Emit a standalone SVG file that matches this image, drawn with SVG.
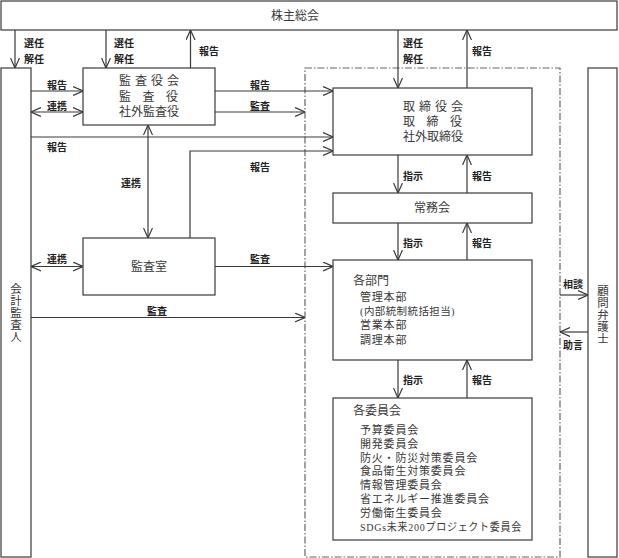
<svg xmlns="http://www.w3.org/2000/svg" width="619" height="558" viewBox="0 0 619 558">
<style>
.box{fill:#fff;stroke:#3a3a3a;stroke-width:1.2}
.ln{fill:none;stroke:#3a3a3a;stroke-width:1.2}
.dd{fill:none;stroke:#666;stroke-width:1.2;stroke-dasharray:7 2 1.5 2}
.t{font-family:"Liberation Serif","Noto Sans CJK JP",serif;font-size:12px;fill:#3a3a3a;dominant-baseline:central}
.s{font-size:10.5px;letter-spacing:0.4px}
.c{font-size:11px;letter-spacing:0.8px}
.v{font-family:"Liberation Serif","Noto Sans CJK JP",serif;font-size:11.5px;fill:#3a3a3a;writing-mode:vertical-rl;letter-spacing:0.5px}
.lb{font-family:"Noto Sans CJK JP","Liberation Sans",sans-serif;font-size:10px;font-weight:bold;fill:#222;dominant-baseline:central}
.m{text-anchor:middle}
</style>
<defs>
<marker id="ah" viewBox="0 0 10 10" refX="10" refY="5" markerWidth="10" markerHeight="10" markerUnits="userSpaceOnUse" orient="auto-start-reverse">
<path d="M0,0.5 L10,5 L0,9.5" fill="none" stroke="#3a3a3a" stroke-width="1.2"/>
</marker>
</defs>

<rect class="dd" x="305" y="68" width="255" height="489"/>

<g id="connectors">
<line class="ln" x1="15" y1="30" x2="15" y2="68" marker-end="url(#ah)"/>
<line class="ln" x1="106" y1="30" x2="106" y2="68" marker-end="url(#ah)"/>
<line class="ln" x1="190.5" y1="68" x2="190.5" y2="30" marker-end="url(#ah)"/>
<line class="ln" x1="398" y1="30" x2="398" y2="88" marker-end="url(#ah)"/>
<line class="ln" x1="467" y1="88" x2="467" y2="30" marker-end="url(#ah)"/>
<line class="ln" x1="31" y1="91" x2="83" y2="91" marker-end="url(#ah)"/>
<line class="ln" x1="31" y1="112" x2="83" y2="112" marker-start="url(#ah)" marker-end="url(#ah)"/>
<line class="ln" x1="215" y1="91" x2="333" y2="91" marker-end="url(#ah)"/>
<line class="ln" x1="215" y1="112" x2="305" y2="112" marker-end="url(#ah)"/>
<line class="ln" x1="31" y1="137" x2="333" y2="137" marker-end="url(#ah)"/>
<line class="ln" x1="148" y1="125" x2="148" y2="238" marker-start="url(#ah)" marker-end="url(#ah)"/>
<polyline class="ln" points="190,238 190,151 333,151" marker-end="url(#ah)"/>
<line class="ln" x1="31" y1="266.5" x2="83" y2="266.5" marker-start="url(#ah)" marker-end="url(#ah)"/>
<line class="ln" x1="215" y1="266.5" x2="333" y2="266.5" marker-end="url(#ah)"/>
<line class="ln" x1="31" y1="317.5" x2="305" y2="317.5" marker-end="url(#ah)"/>
<line class="ln" x1="398" y1="155" x2="398" y2="193" marker-end="url(#ah)"/>
<line class="ln" x1="467" y1="193" x2="467" y2="155" marker-end="url(#ah)"/>
<line class="ln" x1="398" y1="223" x2="398" y2="260" marker-end="url(#ah)"/>
<line class="ln" x1="467" y1="260" x2="467" y2="223" marker-end="url(#ah)"/>
<line class="ln" x1="398" y1="360" x2="398" y2="398" marker-end="url(#ah)"/>
<line class="ln" x1="467" y1="398" x2="467" y2="360" marker-end="url(#ah)"/>
<line class="ln" x1="560" y1="295" x2="588" y2="295" marker-end="url(#ah)"/>
<line class="ln" x1="588" y1="332" x2="560" y2="332" marker-end="url(#ah)"/>

<text class="lb" x="24" y="42">選任</text>
<text class="lb" x="24" y="58">解任</text>
<text class="lb" x="114" y="42">選任</text>
<text class="lb" x="114" y="58">解任</text>
<text class="lb" x="199" y="50">報告</text>
<text class="lb" x="403" y="42">選任</text>
<text class="lb" x="403" y="58">解任</text>
<text class="lb" x="472" y="50">報告</text>
<text class="lb" x="47" y="84">報告</text>
<text class="lb" x="47" y="105">連携</text>
<text class="lb" x="250" y="84">報告</text>
<text class="lb" x="250" y="105">監査</text>
<text class="lb" x="47" y="146">報告</text>
<text class="lb" x="121" y="182">連携</text>
<text class="lb" x="250" y="166">報告</text>
<text class="lb" x="47" y="258">連携</text>
<text class="lb" x="250" y="258">監査</text>
<text class="lb" x="147" y="310">監査</text>
<text class="lb" x="403" y="175">指示</text>
<text class="lb" x="472" y="175">報告</text>
<text class="lb" x="403" y="242">指示</text>
<text class="lb" x="472" y="242">報告</text>
<text class="lb" x="403" y="379">指示</text>
<text class="lb" x="472" y="379">報告</text>
<text class="lb" x="563" y="283">相談</text>
<text class="lb" x="563" y="344">助言</text>
</g>

<g id="shareholders">
<rect class="box" x="1" y="1" width="616" height="29"/>
<text class="t m" x="295" y="16">株主総会</text>
</g>

<g id="accounting-auditor">
<rect class="box" x="1" y="68" width="30" height="489"/>
<text class="v" x="15" y="283">会計監査人</text>
</g>

<g id="audit-board">
<rect class="box" x="83" y="68" width="132" height="57"/>
<text class="t" x="119 135 151 167" y="81">監査役会</text>
<text class="t" x="119 142.5 166" y="97">監査役</text>
<text class="t" x="119" y="112">社外監査役</text>
</g>

<g id="audit-office">
<rect class="box" x="83" y="238" width="132" height="57"/>
<text class="t m" x="149" y="267">監査室</text>
</g>

<g id="board">
<rect class="box" x="333" y="88" width="199" height="67"/>
<text class="t" x="403 419 435 451" y="107">取締役会</text>
<text class="t" x="403 426.5 450" y="122">取締役</text>
<text class="t" x="403" y="137">社外取締役</text>
</g>

<g id="executive">
<rect class="box" x="333" y="193" width="199" height="30"/>
<text class="t m" x="432" y="208">常務会</text>
</g>

<g id="departments">
<rect class="box" x="333" y="260" width="199" height="100"/>
<text class="t" x="353" y="281">各部門</text>
<text class="t c"><tspan x="360" y="296.5">管理本部</tspan><tspan class="s" x="360" y="311">(内部統制統括担当)</tspan><tspan x="360" y="325">営業本部</tspan><tspan x="360" y="340">調理本部</tspan></text>
</g>

<g id="committees">
<rect class="box" x="333" y="398" width="199" height="142"/>
<text class="t" x="353" y="411">各委員会</text>
<text class="t c"><tspan x="360" y="430">予算委員会</tspan><tspan x="360" y="443.8">開発委員会</tspan><tspan x="360" y="457.6">防火・防災対策委員会</tspan><tspan x="360" y="471.4">食品衛生対策委員会</tspan><tspan x="360" y="485.2">情報管理委員会</tspan><tspan x="360" y="499">省エネルギー推進委員会</tspan><tspan x="360" y="512.8">労働衛生委員会</tspan><tspan x="360" y="526.6" textLength="162" lengthAdjust="spacingAndGlyphs">SDGs未来200プロジェクト委員会</tspan></text>
</g>

<g id="legal-advisor">
<rect class="box" x="588" y="68" width="29" height="489"/>
<text class="v" x="602" y="285">顧問弁護士</text>
</g>
</svg>
